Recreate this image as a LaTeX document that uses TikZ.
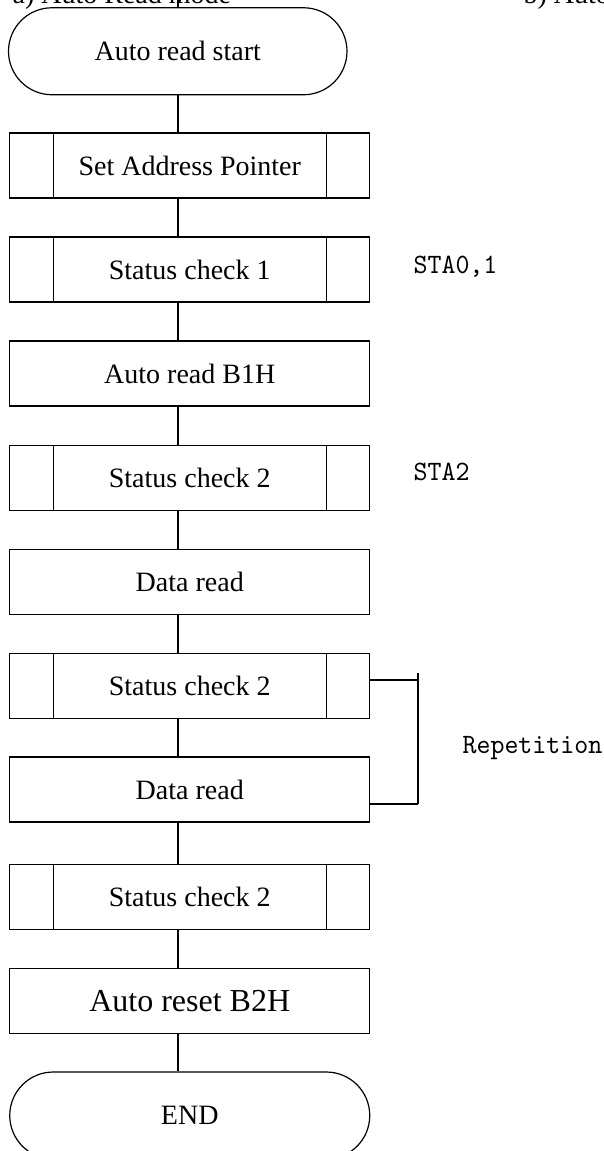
\documentclass[tikz,border=0pt]{standalone}
\usepackage{fontspec}
\setmainfont{Liberation Serif}
\newfontfamily\notefont[Extension=.otf,FakeStretch=0.95]{lmmono10-regular}
\usetikzlibrary{shapes.misc}

\tikzset{
  box/.style={shape=rectangle,minimum width=360pt,minimum height=65pt,inner sep=0pt,draw,font=\fontsize{28}{32}\selectfont},
  subbox/.style={box,path picture={
    \draw ([xshift=43.5pt]path picture bounding box.north west) -- ([xshift=43.5pt]path picture bounding box.south west);
    \draw ([xshift=-43.5pt]path picture bounding box.north east) -- ([xshift=-43.5pt]path picture bounding box.south east);}},
  term/.style={box,shape=rounded rectangle,minimum height=87pt},
  head/.style={anchor=base west,inner sep=0pt,font=\fontsize{28}{32}\selectfont},
  note/.style={anchor=west,inner sep=0pt,font=\notefont\fontsize{28}{32}\selectfont}
}

\begin{document}
\begin{tikzpicture}[x=1pt,y=-1pt,line width=1.2pt]
\useasboundingbox (0,0) rectangle (604,1151);
\path (12,4) node (heada) [head] {a) Auto Read mode};
\path (523,4) node (headb) [head] {b) Auto};

\path (177.75,51.25) node (start) [term,minimum width=338.5pt] {Auto read start};
\path (189.75,165.5) node (setptr) [subbox] {Set Address Pointer};
\path (189.75,269.5) node (stat1) [subbox] {Status check 1};
\path (189.75,373.5) node (readb1) [box] {Auto read B1H};
\path (189.75,478) node (stat2a) [subbox] {Status check 2};
\path (189.75,582) node (dread1) [box] {Data read};
\path (189.75,686) node (stat2b) [subbox] {Status check 2};
\path (189.75,789.5) node (dread2) [box] {Data read};
\path (189.75,897) node (stat2c) [subbox] {Status check 2};
\path (189.75,1001) node (resetb2) [box,font=\fontsize{32}{36}\selectfont] {Auto reset B2H};
\path (189.75,1115.5) node (finish) [term] {END};

\path (413,267) node (sta01) [note] {STA0,1};
\path (413,472) node (sta2) [note] {STA2};
\path (462,748) node (repeat) [note] {Repetition};

\coordinate (spine) at (178,-10);
\draw (spine) to (start.north -| spine);
\draw (start.south -| spine) to (setptr.north -| spine);
\draw (setptr.south -| spine) to (stat1.north -| spine);
\draw (stat1.south -| spine) to (readb1.north -| spine);
\draw (readb1.south -| spine) to (stat2a.north -| spine);
\draw (stat2a.south -| spine) to (dread1.north -| spine);
\draw (dread1.south -| spine) to (stat2b.north -| spine);
\draw (stat2b.south -| spine) to (dread2.north -| spine);
\draw (dread2.south -| spine) to (stat2c.north -| spine);
\draw (stat2c.south -| spine) to (resetb2.north -| spine);
\draw (resetb2.south -| spine) to (finish.north -| spine);

% repetition bracket
\coordinate (reptop) at (418,673);
\coordinate (rep1) at (418,680);
\coordinate (rep2) at (418,804);
\draw (rep1 -| stat2b.east) to (rep1);
\draw (rep2 -| dread2.east) to (rep2);
\draw (reptop) to (rep2);
\end{tikzpicture}
\end{document}
